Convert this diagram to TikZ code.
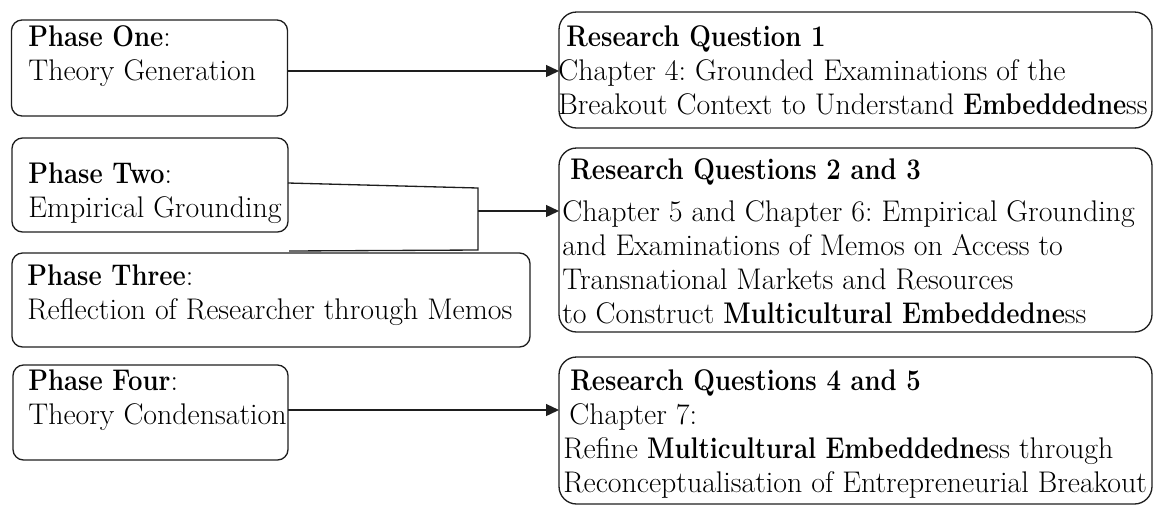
\documentclass[tikz,border=0pt]{standalone}
\usepackage{graphicx}
\usepackage{tikz}
\usetikzlibrary{arrows.meta, positioning, calc}
\definecolor{mydark}{RGB}{30,30,30}
\newcommand{\hb}[1]{\scalebox{0.86}[1]{\bfseries #1}}
\tikzset{
  phasebox/.style={rectangle, draw=mydark, rounded corners=6pt, line width=0.75pt,
    inner sep=0pt, outer sep=0pt},
  rqbox/.style={rectangle, draw=mydark, rounded corners=10pt, line width=0.75pt,
    inner sep=0pt, outer sep=0pt},
  boxtext/.style={anchor=north west, align=left, inner sep=0pt,
    font=\fontsize{17}{19.4}\selectfont\frenchspacing},
  arrow/.style={-{Triangle[length=0.26cm, width=0.24cm]}, line width=0.75pt, color=mydark},
  line/.style={line width=0.75pt, color=mydark}
}

\begin{document}
\begin{tikzpicture}
  \useasboundingbox (0,0) rectangle (23.12,-10.12);

  % phase boxes (left)
  \node[phasebox, minimum width=5.52cm, minimum height=1.92cm] (p1) at (2.99,-1.36) {};
  \node[phasebox, minimum width=5.52cm, minimum height=1.88cm] (p2) at (3.00,-3.70) {};
  \node[phasebox, minimum width=10.36cm, minimum height=1.88cm] (p3) at (5.42,-6.00) {};
  \node[phasebox, minimum width=5.50cm, minimum height=1.90cm] (p4) at (3.01,-8.25) {};

  % research question boxes (right)
  \node[rqbox, minimum width=11.86cm, minimum height=2.32cm] (rq1) at (17.11,-1.40) {};
  \node[rqbox, minimum width=11.86cm, minimum height=3.68cm] (rq2) at (17.11,-4.80) {};
  \node[rqbox, minimum width=11.86cm, minimum height=2.94cm] (rq3) at (17.11,-8.61) {};

  \node[boxtext] (p1txt) at (0.56,-0.50) {\hb{Phase One}:\\Theory Generation};
  \node[boxtext] (p2txt) at (0.56,-3.24) {\hb{Phase Two}:\\Empirical Grounding};
  \node[boxtext] (p3txt) at (0.54,-5.28) {\hb{Phase Three}:\\Reflection of Researcher through Memos};
  \node[boxtext] (p4txt) at (0.56,-7.38) {\hb{Phase Four}:\\Theory Condensation};

  \node[boxtext] (rq1txt) at (11.16,-0.50) {\hspace*{0.16cm}\hb{Research Question 1}\\
    Chapter 4: Grounded Examinations of the\\
    Breakout Context to Understand \hb{Embeddedne}ss};
  \node[boxtext] (rq2txt) at (11.24,-3.16) {\hspace*{0.16cm}\hb{Research Questions 2 and 3}\\[0.16cm]
    Chapter 5 and Chapter 6: Empirical Grounding\\
    and Examinations of Memos on Access to\\
    Transnational Markets and Resources\\
    to Construct \hb{Multicultural Embeddedne}ss};
  \node[boxtext] (rq3txt) at (11.26,-7.38) {\hspace*{0.14cm}\hb{Research Questions 4 and 5}\\
    \hspace*{0.12cm}Chapter 7:\\
    Refine \hb{Multicultural Embeddedne}ss through\\
    Reconceptualisation of Entrepreneurial Breakout};

  % joining bracket for phases two and three
  \coordinate (jtop) at (9.56,-3.76);
  \coordinate (jbot) at (9.56,-5.00);
  \coordinate (jend) at (5.78,-5.02);
  \coordinate (jmid) at (9.56,-4.22);
  \draw[line] (p2.east |- 0,-3.66) -- (jtop) -- (jbot) -- (jend);

  \draw[arrow] (p1.east |- 0,-1.42) -- (rq1.west |- 0,-1.42);
  \draw[arrow] (jmid) -- (jmid -| rq2.west);
  \draw[arrow] (p4.east |- 0,-8.20) -- (rq3.west |- 0,-8.20);
\end{tikzpicture}
\end{document}
